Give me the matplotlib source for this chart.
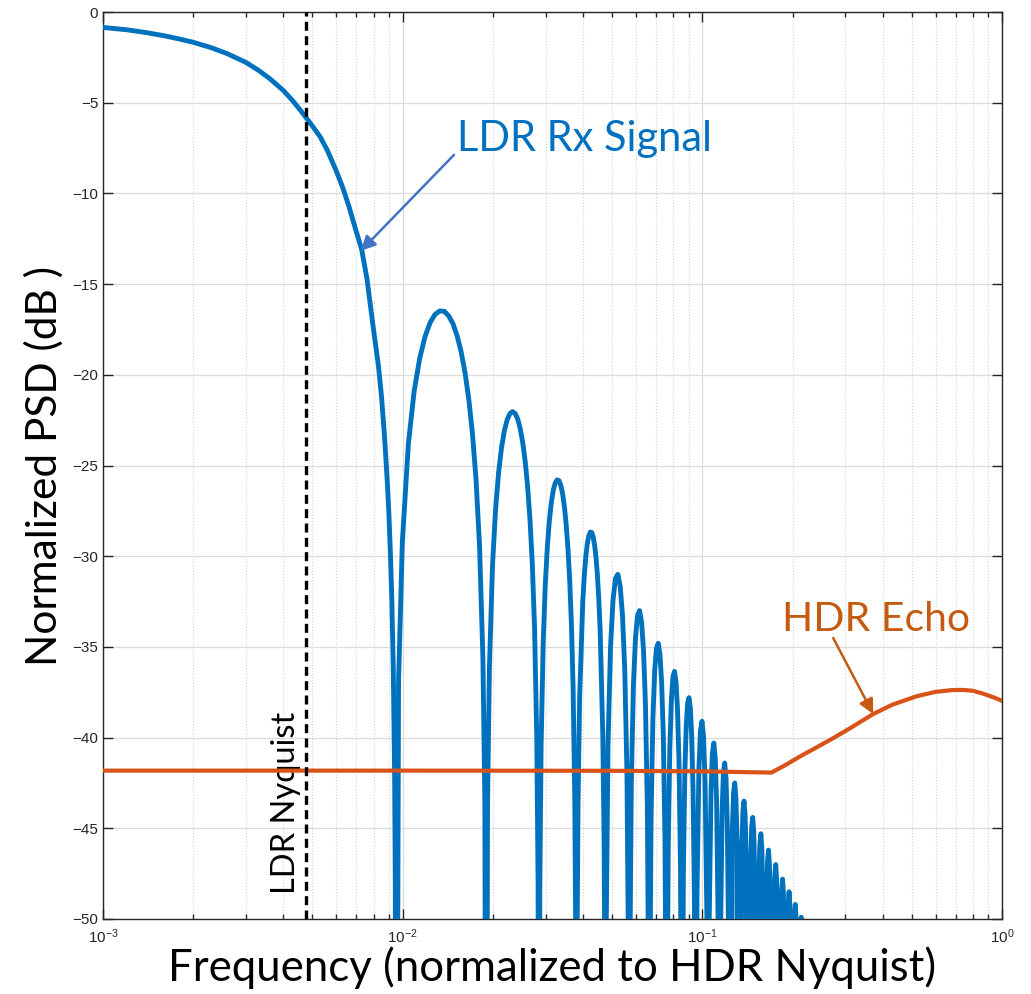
import matplotlib
matplotlib.use("Agg")
import matplotlib.pyplot as plt
from matplotlib.ticker import LogLocator, MultipleLocator, NullFormatter

# LDR Rx signal PSD (freq normalised to HDR Nyquist, dB)
main_f = [0.001, 0.0012, 0.0014, 0.0016, 0.0018, 0.002, 0.0023, 0.0026, 0.003, 0.0033, 0.0036,
          0.004, 0.0043, 0.0046, 0.005, 0.0053, 0.0056, 0.006, 0.0063, 0.0066, 0.007, 0.0073,
          0.0076, 0.008, 0.0083, 0.0085, 0.0087, 0.0089, 0.009, 0.0091, 0.0092, 0.0093, 0.0094,
          0.00945, 0.0095]
main_db = [-0.85, -0.98, -1.14, -1.31, -1.49, -1.67, -1.97, -2.30, -2.78, -3.21, -3.67,
           -4.33, -4.90, -5.50, -6.29, -6.87, -7.61, -8.75, -9.65, -10.65, -12.1, -13.1,
           -14.7, -17.55, -19.5, -21.2, -23.4, -26.1, -27.75, -29.8, -32.4, -36.0, -42.1,
           -48.2, -80]

lobe_f = [
    [0.00969, 0.009975, 0.01045, 0.010925, 0.0114, 0.011875, 0.01235, 0.012825, 0.0133, 0.013775, 0.01425,
     0.014725, 0.0152, 0.015675, 0.01615, 0.016625, 0.0171, 0.017575, 0.01805, 0.018525, 0.01881, 0.019],
    [0.01919, 0.019475, 0.01995, 0.020425, 0.0209, 0.021375, 0.02185, 0.022325, 0.0228, 0.023275, 0.02375,
     0.024225, 0.0247, 0.025175, 0.02565, 0.026125, 0.0266, 0.027075, 0.02755, 0.028025, 0.02831, 0.0285],
    [0.02869, 0.028975, 0.02945, 0.029925, 0.0304, 0.030875, 0.03135, 0.031825, 0.0323, 0.032775, 0.03325,
     0.033725, 0.0342, 0.034675, 0.03515, 0.035625, 0.0361, 0.036575, 0.03705, 0.037525, 0.03781, 0.038],
    [0.03819, 0.038475, 0.03895, 0.0399, 0.040375, 0.04085, 0.041325, 0.0418, 0.042275, 0.04275,
     0.043225, 0.0437, 0.044175, 0.04465, 0.045125, 0.0456, 0.04655, 0.047025, 0.04731, 0.0475],
    [0.047785, 0.04845, 0.0494, 0.05035, 0.0513, 0.05225, 0.0532, 0.05415, 0.0551, 0.05605, 0.056715, 0.057],
    [0.057285, 0.05795, 0.0589, 0.05985, 0.0608, 0.06175, 0.0627, 0.06365, 0.0646, 0.06555, 0.066215, 0.0665],
    [0.066785, 0.06745, 0.0684, 0.06935, 0.0703, 0.07125, 0.0722, 0.07315, 0.0741, 0.07505, 0.075715, 0.076],
    [0.076285, 0.07695, 0.0779, 0.07885, 0.0798, 0.08075, 0.0817, 0.08265, 0.0836, 0.08455, 0.085215, 0.0855],
    [0.085785, 0.08645, 0.0874, 0.08835, 0.0893, 0.09025, 0.0912, 0.09215, 0.0931, 0.09405, 0.094715, 0.095],
    [0.09595, 0.09738, 0.09856, 0.09975, 0.10094, 0.10213, 0.10355, 0.1045],
    [0.10545, 0.10688, 0.10806, 0.10925, 0.11044, 0.11163, 0.11305, 0.114],
    [0.11495, 0.11638, 0.11756, 0.11875, 0.11994, 0.12113, 0.12255, 0.1235],
    [0.12588, 0.12706, 0.12825, 0.12944, 0.13063, 0.133],
    [0.13538, 0.13656, 0.13775, 0.13894, 0.14013, 0.1425],
    [0.14488, 0.14606, 0.14725, 0.14844, 0.14963, 0.152],
    [0.15438, 0.15556, 0.15675, 0.15794, 0.15913, 0.1615],
    [0.16388, 0.16506, 0.16625, 0.16744, 0.16863, 0.171],
    [0.17338, 0.17456, 0.17575, 0.17694, 0.17813, 0.1805],
    [0.18288, 0.18406, 0.18525, 0.18644, 0.18763, 0.19],
    [0.19238, 0.19356, 0.19475, 0.19594, 0.19713, 0.1995],
    [0.20188, 0.20306, 0.20425, 0.20544, 0.20663, 0.209],
    [0.21138, 0.21256, 0.21375, 0.21494, 0.21613, 0.2185],
]
lobe_db = [
    [-36.86, -29.23, -23.78, -20.89, -19.09, -17.89, -17.12, -16.67, -16.48, -16.50, -16.76,
     -17.19, -17.86, -18.74, -19.89, -21.36, -23.27, -25.79, -29.41, -35.6, -43.7, -80],
    [-43.90, -36.13, -30.47, -27.38, -25.39, -24.02, -23.08, -22.48, -22.14, -22.03, -22.14,
     -22.46, -23.00, -23.77, -24.81, -26.18, -27.99, -30.42, -33.96, -40.05, -48.09, -80],
    [-48.24, -40.42, -34.69, -31.53, -29.46, -28.02, -27.02, -26.35, -25.96, -25.79, -25.84,
     -26.11, -26.59, -27.31, -28.30, -29.62, -31.38, -33.77, -37.26, -43.31, -51.33, -80],
    [-51.44, -43.60, -37.83, -32.52, -31.05, -30.01, -29.30, -28.87, -28.67, -28.69,
     -28.93, -29.39, -30.07, -31.04, -32.33, -34.06, -39.88, -45.91, -53.91, -80],
    [-50.52, -40.34, -34.98, -32.41, -31.23, -31.0, -31.66, -33.27, -36.27, -42.06, -52.54, -80],
    [-52.66, -42.46, -37.06, -34.47, -33.25, -33.0, -33.63, -35.21, -38.18, -43.94, -54.40, -80],
    [-54.55, -44.34, -38.92, -36.31, -35.08, -34.8, -35.41, -36.97, -39.92, -45.66, -56.11, -80],
    [-56.18, -45.96, -40.53, -37.89, -36.64, -36.35, -36.94, -38.49, -41.41, -47.14, -57.58, -80],
    [-57.70, -47.46, -42.02, -39.37, -38.11, -37.8, -38.38, -39.91, -42.83, -48.54, -58.96, -80],
    [-48.8, -41.8, -39.63, -39.1, -39.95, -42.42, -49.8, -80],
    [-50.04, -43.02, -40.85, -40.3, -41.13, -43.6, -50.96, -80],
    [-51.17, -44.14, -41.95, -41.4, -42.22, -44.68, -52.03, -80],
    [-45.26, -43.07, -42.5, -43.31, -45.76, -80],
    [-46.27, -44.08, -43.5, -44.30, -46.75, -80],
    [-47.18, -44.98, -44.4, -45.2, -47.64, -80],
    [-48.1, -45.89, -45.3, -46.09, -48.5, -80],
    [-49.0, -46.79, -46.2, -46.99, -49.4, -80],
    [-49.8, -47.6, -47.0, -47.78, -50.2, -80],
    [-50.6, -48.4, -47.8, -48.58, -51.0, -80],
    [-51.3, -49.1, -48.5, -49.28, -51.7, -80],
    [-52.0, -49.8, -49.2, -49.98, -52.4, -80],
    [-52.7, -50.5, -49.9, -50.68, -53.1, -80],
]

# HDR echo PSD
echo_f = [0.001, 0.01, 0.05, 0.1, 0.17, 0.19, 0.2117, 0.24, 0.2734, 0.31, 0.3718, 0.43,
          0.5188, 0.6, 0.68, 0.74, 0.8, 0.866, 0.93, 1.0]
echo_db = [-41.82, -41.82, -41.83, -41.86, -41.93, -41.5, -41.04, -40.55, -40.03, -39.5, -38.7, -38.19,
           -37.72, -37.48, -37.38, -37.37, -37.42, -37.58, -37.76, -37.97]

ldr_nyquist = 0.00475

blue = "#0072BD"
orange = "#D95319"

sig_f = list(main_f)
sig_db = list(main_db)
for f, d in zip(lobe_f, lobe_db):
    sig_f += f
    sig_db += d

plt.rcParams['font.family'] = ['Liberation Sans', 'DejaVu Sans']
plt.rcParams['mathtext.default'] = 'regular'

fig = plt.figure(figsize=(10.31, 9.94), dpi=100)
ax = fig.add_axes([103 / 1031, 75 / 994, 899 / 1031, 907 / 994])

ax.plot(sig_f, sig_db, color=blue, lw=3.5, solid_joinstyle='round', zorder=3)
ax.plot(echo_f, echo_db, color=orange, lw=3.0, zorder=4)
ax.axvline(ldr_nyquist, color='black', lw=2.4, ls=(0, (2.7, 1.6)), zorder=5)

ax.set_xscale('log')
ax.set_xlim(1e-3, 1)
ax.set_ylim(-50, 0)
ax.yaxis.set_major_locator(MultipleLocator(5))
ax.xaxis.set_minor_locator(LogLocator(base=10, subs=range(2, 10)))
ax.xaxis.set_minor_formatter(NullFormatter())

ax.grid(True, which='major', color='#DCDCDC', lw=0.9)
ax.grid(True, which='minor', axis='x', color='#D5D5D5', lw=0.8, ls=':')
ax.set_axisbelow(True)

for s in ax.spines.values():
    s.set_color('#262626')
    s.set_linewidth(1.0)
ax.tick_params(which='both', direction='in', top=True, right=True, colors='#262626',
               labelsize=11, width=1.0)
ax.tick_params(which='major', length=7)
ax.tick_params(which='minor', length=3.5)
ax.tick_params(axis='x', pad=6)

lab_font = ['Lato', 'DejaVu Sans']
ax.set_xlabel('Frequency (normalized to HDR Nyquist)', family=lab_font, fontsize=31.5, labelpad=0)
ax.set_ylabel('Normalized PSD (dB )', family=lab_font, fontsize=30.5, labelpad=6)

ax.text(0.00408, -43.6, 'LDR Nyquist', family=lab_font, fontsize=23.5, rotation=90,
        ha='center', va='center', color='black')

ax.annotate('', xy=(0.00725, -13.17), xytext=(0.01483, -7.88),
            arrowprops=dict(arrowstyle='-|>', color='#4472C4', lw=1.8,
                            mutation_scale=22, shrinkA=0, shrinkB=0))
ax.text(0.01518, -7.65, 'LDR Rx Signal', family=lab_font, fontsize=30,
        color='#0070C0', ha='left', va='baseline')

ax.annotate('', xy=(0.3718, -38.7), xytext=(0.2734, -34.51),
            arrowprops=dict(arrowstyle='-|>', color='#C55A11', lw=1.8,
                            mutation_scale=22, shrinkA=0, shrinkB=0))
ax.text(0.1839, -34.14, 'HDR Echo', family=lab_font, fontsize=29.5,
        color='#C55A11', ha='left', va='baseline')

fig.savefig('out.png', dpi=100)
